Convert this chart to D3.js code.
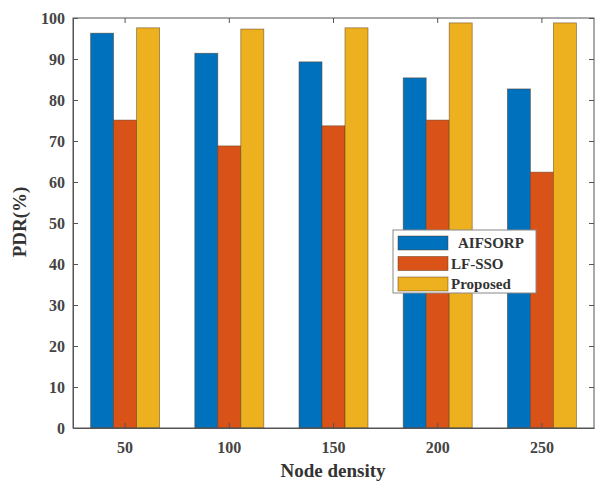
<!DOCTYPE html>
<html><head><meta charset="utf-8">
<script src="https://cdn.jsdelivr.net/npm/d3@7"></script>
<style>body{margin:0;background:#fff}</style>
</head><body>
<script>
const categories = ["50","100","150","200","250"];
const seriesNames = ["AIFSORP","LF-SSO","Proposed"];
const aifsorp = [96.3, 91.4, 89.3, 85.4, 82.7];
const lfsso = [75.1, 68.8, 73.7, 75.1, 62.4];
const proposed = [97.6, 97.3, 97.6, 98.8, 98.8];
const yTicks = [0,10,20,30,40,50,60,70,80,90,100];
const colors = ["#0072BD","#D95319","#EDB120"];
const series = [aifsorp, lfsso, proposed];

const W=596,H=485;
const m={l:73,r:2,t:18,b:57};
const svg=d3.select("body").append("svg").attr("width",W).attr("height",H);
const x=d3.scaleBand().domain(categories).range([m.l,W-m.r]).padding(0);
const y=d3.scaleLinear().domain([0,100]).range([H-m.b,m.t]);
const bw=23;
const font="'Liberation Serif','Times New Roman',serif";

// bars
series.forEach((s,si)=>{
  svg.append("g").selectAll("rect").data(s).join("rect")
    .attr("x",(d,i)=>x(categories[i])+x.bandwidth()/2+(si-1.5)*bw)
    .attr("y",d=>y(d)).attr("width",bw).attr("height",d=>y(0)-y(d))
    .attr("fill",colors[si]).attr("stroke","#5a3a1a").attr("stroke-width",0.8).attr("stroke-opacity",0.6);
});

const axCol="#555";
// frame
svg.append("rect").attr("x",m.l).attr("y",m.t).attr("width",W-m.r-m.l).attr("height",H-m.b-m.t)
  .attr("fill","none").attr("stroke",axCol).attr("stroke-width",1);

// y axis
const ya=svg.append("g").attr("transform",`translate(${m.l},0)`)
  .call(d3.axisLeft(y).tickValues(yTicks).tickSizeInner(-5).tickSizeOuter(0).tickPadding(8));
ya.select(".domain").attr("stroke",axCol);
ya.selectAll("line").attr("stroke",axCol);
ya.selectAll("text").attr("font-family",font).attr("font-weight","bold").attr("font-size",16).attr("fill","#444");
const yr=svg.append("g").attr("transform",`translate(${W-m.r},0)`)
  .call(d3.axisRight(y).tickValues(yTicks).tickSizeInner(-5).tickSizeOuter(0).tickFormat(""));
yr.select(".domain").remove(); yr.selectAll("line").attr("stroke",axCol);

// x axis
const xa=svg.append("g").attr("transform",`translate(0,${H-m.b})`)
  .call(d3.axisBottom(x).tickSizeInner(-5).tickSizeOuter(0).tickPadding(14));
xa.select(".domain").attr("stroke",axCol);
xa.selectAll("line").attr("stroke",axCol);
xa.selectAll("text").attr("font-family",font).attr("font-weight","bold").attr("font-size",16).attr("fill","#444");
const xt=svg.append("g").attr("transform",`translate(0,${m.t})`)
  .call(d3.axisTop(x).tickSizeInner(-5).tickSizeOuter(0).tickFormat(""));
xt.select(".domain").remove(); xt.selectAll("line").attr("stroke",axCol);

// axis labels
svg.append("text").attr("x",333).attr("y",477).attr("text-anchor","middle")
  .attr("font-family",font).attr("font-weight","bold").attr("font-size",19).attr("fill","#333").text("Node density");
svg.append("text").attr("transform","translate(26,222) rotate(-90)").attr("text-anchor","middle")
  .attr("font-family",font).attr("font-weight","bold").attr("font-size",19).attr("fill","#333").text("PDR(%)");

// legend
const lg=svg.append("g");
lg.append("rect").attr("x",393).attr("y",230).attr("width",143).attr("height",63)
  .attr("fill","#fff").attr("stroke","#888").attr("stroke-width",1);
seriesNames.forEach((n,i)=>{
  const cy=243+i*20.5;
  lg.append("rect").attr("x",398).attr("y",cy-7).attr("width",50).attr("height",14)
    .attr("fill",colors[i]).attr("stroke","#5a3a1a").attr("stroke-width",0.8).attr("stroke-opacity",0.6);
  lg.append("text").attr("x",i===0?458:451).attr("y",cy+5)
    .attr("font-family",font).attr("font-weight","bold").attr("font-size",15).attr("fill","#333").text(n);
});
</script>
</body></html>
